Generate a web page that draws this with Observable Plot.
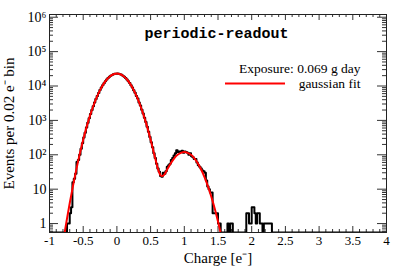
<!DOCTYPE html>
<html><head><meta charset="utf-8">
<script src="https://cdn.jsdelivr.net/npm/d3@7"></script>
<script src="https://cdn.jsdelivr.net/npm/@observablehq/plot@0.6"></script>
<style>body{margin:0;background:#fff} svg{display:block}</style>
</head><body><div id="chart"></div>
<script>
// ---- data ----
const binWidth = 0.02;
const binStart = -0.74;
const counts = [
  1,1,2,3,16,20,28,62,70,100,150,215,320,440,620,860,1150,1540,2000,2600,
  3300,4200,5150,6300,7600,9000,10500,12100,13800,15400,17000,18500,19900,21000,22000,22600,22900,
  23000,22700,22000,21100,19800,18600,17000,15500,13700,12200,10500,9100,7500,6400,5100,4300,3300,2700,
  2050,1600,1200,900,650,470,330,230,165,110,80,55,40,32,24,23,30,28,33,45,50,55,70,80,95,110,135,
  120,125,120,130,115,125,120,115,100,110,90,85,75,75,60,50,45,40,35,33,30,18,12,10,8,8,2,2,2,2,1,1,
  0,0,0,0,0,1,0,1,1,0,0,0,0,0,0,0,0,0,0,2,2,1,1,3,3,2,1,2,2,1,1,0,1,1,1,1,1,1
];
const fitX = [-0.8,-0.75,-0.7,-0.65,-0.6,-0.55,-0.5,-0.45,-0.4,-0.35,-0.3,-0.25,-0.2,-0.15,-0.1,-0.05,0,
  0.05,0.1,0.15,0.2,0.25,0.3,0.35,0.4,0.45,0.5,0.55,0.6,0.625,0.65,0.675,0.7,0.75,0.8,0.85,0.9,0.95,1.0,
  1.05,1.1,1.15,1.2,1.25,1.3,1.35,1.4,1.45,1.5,1.55];
const fitY = [0.27,1.08,3.9,12.9,39,108,274,637,1353,2626,4671,7601,11323,15440,19265,22004,23000,
  22004,19265,15440,11323,7601,4671,2626,1353,637,275,111,45,31.5,25,24.1,26,38.6,57,79,100,114,120,
  114,100,79,57,37.5,22.5,12.3,6.1,2.8,1.15,0.43];
const xMajor = [-1,-0.5,0,0.5,1,1.5,2,2.5,3,3.5,4];
const xTickLabels = ["-1","-0.5","0","0.5","1","1.5","2","2.5","3","3.5","4"];
const yMajor = [1,10,100,1000,10000,100000,1000000];
const yTickLabels = ["1","10","10\u00B2","10\u00B3","10\u2074","10\u2075","10\u2076"];
const title = "periodic-readout";
const exposure = "Exposure: 0.069 g day";
const legendLabel = "gaussian fit";
const xTitle = "Charge [e\u207B]";
const yTitle = "Events per 0.02 e\u207B bin";

// ---- layout ----
const W = 407, H = 276;
const mL = 49, mR = 21, mT = 14, mB = 44;
const fw = W - mL - mR, fh = H - mT - mB;
const yMin = 0.55, yMax = 1.2e6;

const hist = counts.map((c, i) => ({x: binStart + i * binWidth, y: Math.max(c, yMin)}));
const steps = [{x: -1, y: yMin}, ...hist,
  {x: binStart + counts.length * binWidth, y: yMin}, {x: 4, y: yMin}];
const fit = fitX.map((x, i) => ({x, y: fitY[i]}));

const xMinor = d3.range(-10, 41).map(i => i / 10).filter(v => Math.abs(v * 2 - Math.round(v * 2)) > 1e-6);
const yMinor = [];
for (let e = -1; e <= 5; e++) for (let m = 2; m <= 9; m++) {
  const v = m * Math.pow(10, e);
  if (v > yMin && v < yMax) yMinor.push(v);
}
const tickColor = "#333";
const serif = "Liberation Serif, Times New Roman, serif";

const plot = Plot.plot({
  width: W, height: H,
  marginLeft: mL, marginRight: mR, marginTop: mT, marginBottom: mB,
  style: {fontFamily: serif, background: "#fff"},
  x: {domain: [-1, 4], axis: null},
  y: {type: "log", domain: [yMin, yMax], axis: null},
  marks: [
    // ticks (inside the frame, ROOT style)
    Plot.tickX(xMinor, {x: d => d, insetTop: fh - 3, stroke: tickColor}),
    Plot.tickX(xMajor, {x: d => d, insetTop: fh - 6, stroke: tickColor}),
    Plot.tickX(xMinor, {x: d => d, insetBottom: fh - 3, stroke: tickColor}),
    Plot.tickX(xMajor, {x: d => d, insetBottom: fh - 6, stroke: tickColor}),
    Plot.tickY(yMinor, {y: d => d, insetRight: fw - 4, stroke: tickColor}),
    Plot.tickY(yMajor, {y: d => d, insetRight: fw - 9, stroke: tickColor}),
    Plot.tickY(yMinor, {y: d => d, insetLeft: fw - 4, stroke: tickColor}),
    Plot.tickY(yMajor, {y: d => d, insetLeft: fw - 9, stroke: tickColor}),
    // data
    Plot.line(steps, {x: "x", y: "y", curve: "step-after", stroke: "#000", strokeWidth: 2, clip: true}),
    Plot.line(fit, {x: "x", y: "y", curve: "catmull-rom", stroke: "#ff0000", strokeWidth: 2, clip: true}),
    Plot.frame({stroke: "#222", strokeWidth: 1}),
    // tick labels
    Plot.text(xMajor, {x: d => d, frameAnchor: "bottom", dy: 8.5, text: (d, i) => xTickLabels[i],
      fontSize: 13, textAnchor: "middle", lineAnchor: "middle", fill: "#000"}),
    Plot.text(yMajor, {y: d => d, frameAnchor: "left", dx: -3, text: (d, i) => yTickLabels[i],
      fontSize: 14, textAnchor: "end", lineAnchor: "middle", fill: "#000"}),
    // titles
    Plot.text([xTitle], {frameAnchor: "bottom", dy: 26, text: d => d, fontSize: 15, textAnchor: "middle", lineAnchor: "middle", fill: "#000"}),
    Plot.text([yTitle], {frameAnchor: "left", dx: -40, rotate: -90, text: d => d, fontSize: 15, textAnchor: "middle", lineAnchor: "middle", fill: "#000"}),
    Plot.text([title], {frameAnchor: "top-left", dx: 95, dy: 19, text: d => d, fontFamily: "Liberation Mono, Courier New, monospace",
      fontWeight: "bold", fontSize: 15, textAnchor: "start", lineAnchor: "middle", fill: "#000"}),
    Plot.text([exposure], {frameAnchor: "top-right", dx: -26, dy: 54.5, text: d => d, fontSize: 13.5, textAnchor: "end", lineAnchor: "middle", fill: "#000"}),
    Plot.text([legendLabel], {frameAnchor: "top-right", dx: -26, dy: 69.5, text: d => d, fontSize: 13.5, textAnchor: "end", lineAnchor: "middle", fill: "#000"})
  ]
});
// legend sample line
d3.select(plot).append("line")
  .attr("x1", 225).attr("x2", 285).attr("y1", 83.5).attr("y2", 83.5)
  .attr("stroke", "#ff0000").attr("stroke-width", 2);
document.getElementById("chart").appendChild(plot);
</script>
</body></html>
